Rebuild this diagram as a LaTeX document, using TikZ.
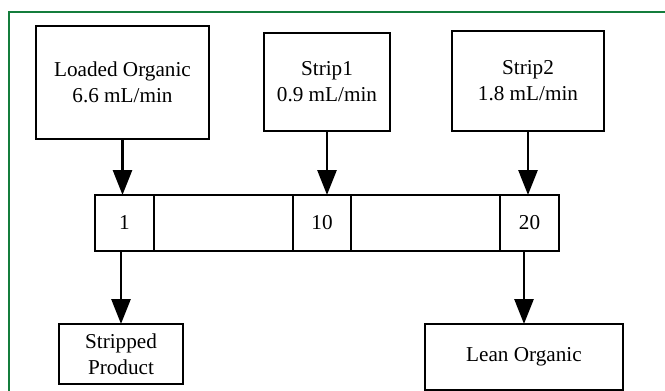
\documentclass[tikz,border=0pt]{standalone}
\usepackage{fontspec}
\setmainfont{Liberation Serif}
\usepackage{xcolor}
\usepackage{tikz}
\usetikzlibrary{arrows.meta}
\definecolor{framegreen}{RGB}{20,125,60}
\tikzset{
  box/.style={draw, line width=0.7pt, inner sep=0pt, outer sep=0pt, align=center},
  cell/.style={box, minimum height=28pt},
  flow/.style={line width=1.4pt, -{Triangle[length=12.5pt,width=9.5pt]}}
}
\begin{document}
\begin{tikzpicture}[x=0.5pt,y=-0.5pt]\fontsize{10.6}{13}\selectfont
\clip (0,0) rectangle (665,391);
\draw[framegreen, line width=0.6pt] (9,12) rectangle (700,420);
% feeds
  \node[box, minimum width=86.5pt, minimum height=56.5pt] (loaded) at (122.5,82.5) {Loaded Organic\\6.6 mL/min};
  \node[box, minimum width=63pt, minimum height=49pt] (strip1) at (327,82) {Strip1\\0.9 mL/min};
  \node[box, minimum width=76pt, minimum height=50pt] (strip2) at (528,81) {Strip2\\1.8 mL/min};
% column stages
  \node[cell, minimum width=29.5pt] (s1) at (124.5,223) {1};
  \node[cell, minimum width=69.5pt] (g1) at (223.5,223) {};
  \node[cell, minimum width=29pt] (s10) at (322,223) {10};
  \node[cell, minimum width=74.5pt] (g2) at (425.5,223) {};
  \node[cell, minimum width=29.5pt] (s20) at (529.5,223) {20};
% products
  \node[box, minimum width=62pt, minimum height=30pt] (stripped) at (121,354) {Stripped\\Product};
  \node[box, minimum width=99pt, minimum height=33pt] (lean) at (524,357) {Lean Organic};
% flows
  \draw[flow] (loaded.south) -- (loaded.south |- s1.north);
  \draw[flow] (strip1.south) -- (strip1.south |- s10.north);
  \draw[flow] (strip2.south) -- (strip2.south |- s20.north);
  \draw[flow] (stripped.north |- s1.south) -- (stripped.north);
  \draw[flow] (lean.north |- s20.south) -- (lean.north);
\end{tikzpicture}
\end{document}
